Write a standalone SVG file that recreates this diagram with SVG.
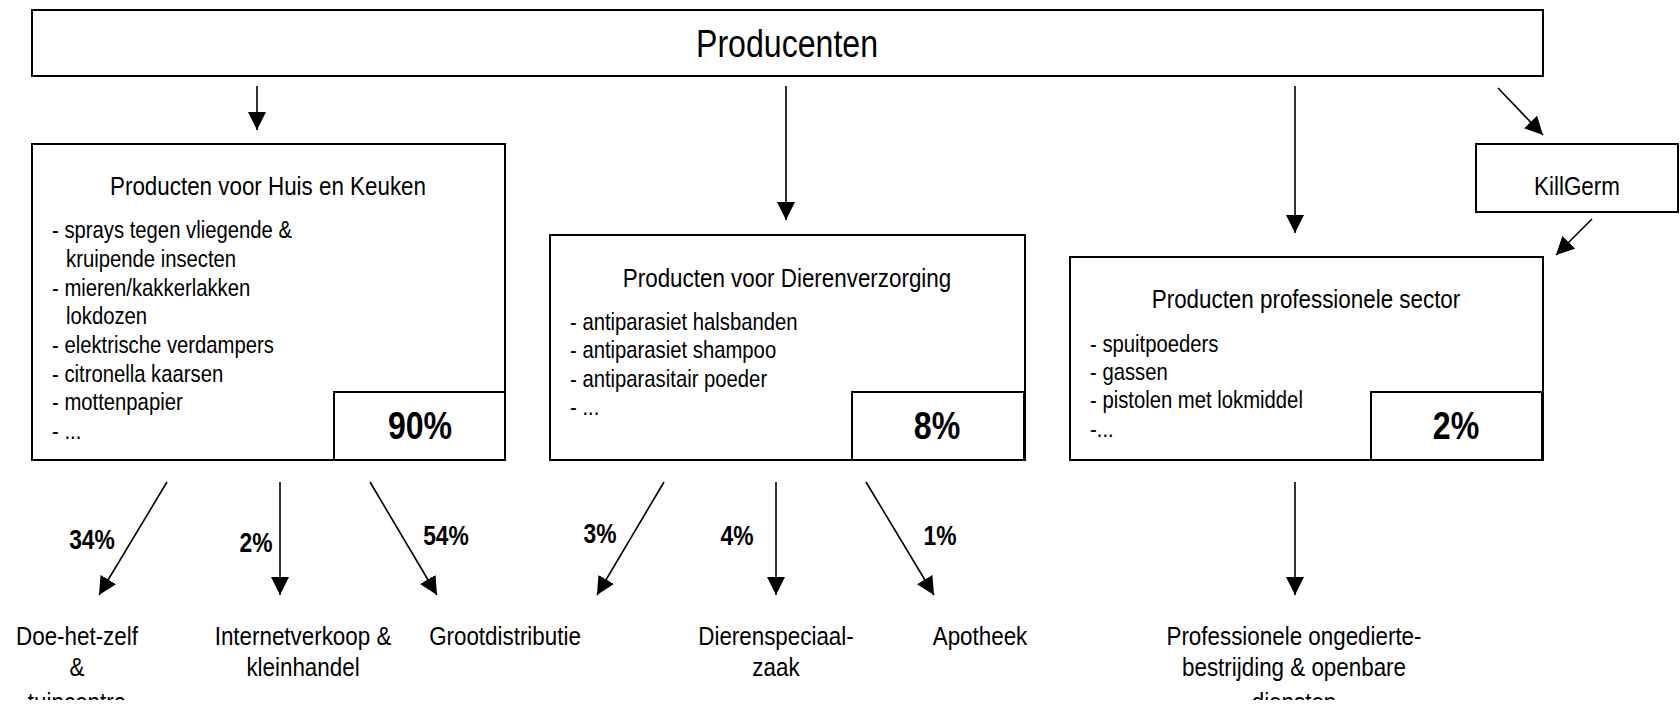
<svg xmlns="http://www.w3.org/2000/svg" width="1680" height="707" viewBox="0 0 1680 707">
<defs>
<marker id="ah" viewBox="0 0 18 18" refX="18" refY="9" markerWidth="18" markerHeight="18" orient="auto" markerUnits="userSpaceOnUse">
<path d="M0,0 L18,9 L0,18 z" fill="#000"/>
</marker>
<clipPath id="cut"><rect x="0" y="0" width="1680" height="700"/></clipPath>
<style>
.box{fill:#fff;stroke:#000;stroke-width:2}
.t{font-family:"Liberation Sans",Arial,sans-serif;fill:#000}
.big{font-size:38px}
.ti{font-size:26.5px}
.it{font-size:24px}
.pc{font-size:38px;font-weight:bold}
.lb{font-size:27px;font-weight:bold}
.c{text-anchor:middle}
.ar{stroke:#000;stroke-width:1.6;fill:none;marker-end:url(#ah)}
</style>
</defs>
<rect width="1680" height="707" fill="#fff"/>
<g id="producenten">
<rect class="box" x="32" y="10" width="1511" height="66"/>
<text class="t big c" transform="translate(787,57) scale(0.845,1)">Producenten</text>
</g>
<g id="huis-keuken">
<rect class="box" x="32" y="144" width="473" height="316"/>
<text class="t ti c" transform="translate(268,195) scale(0.845,1)">Producten voor Huis en Keuken</text>
<text class="t it" transform="translate(52,238) scale(0.845,1)">- sprays tegen vliegende &amp;</text>
<text class="t it" transform="translate(66,267) scale(0.845,1)">kruipende insecten</text>
<text class="t it" transform="translate(52,296) scale(0.845,1)">- mieren/kakkerlakken</text>
<text class="t it" transform="translate(66,324) scale(0.845,1)">lokdozen</text>
<text class="t it" transform="translate(52,353) scale(0.845,1)">- elektrische verdampers</text>
<text class="t it" transform="translate(52,382) scale(0.845,1)">- citronella kaarsen</text>
<text class="t it" transform="translate(52,410) scale(0.845,1)">- mottenpapier</text>
<text class="t it" transform="translate(52,439) scale(0.845,1)">- ...</text>
<rect class="box" x="334" y="392" width="171" height="68"/>
<text class="t pc c" transform="translate(420,439) scale(0.845,1)">90%</text>
</g>
<g id="dierenverzorging">
<rect class="box" x="550" y="235" width="475" height="225"/>
<text class="t ti c" transform="translate(787,287) scale(0.845,1)">Producten voor Dierenverzorging</text>
<text class="t it" transform="translate(570,330) scale(0.845,1)">- antiparasiet halsbanden</text>
<text class="t it" transform="translate(570,358) scale(0.845,1)">- antiparasiet shampoo</text>
<text class="t it" transform="translate(570,387) scale(0.845,1)">- antiparasitair poeder</text>
<text class="t it" transform="translate(570,415) scale(0.845,1)">- ...</text>
<rect class="box" x="852" y="392" width="172" height="68"/>
<text class="t pc c" transform="translate(937,439) scale(0.845,1)">8%</text>
</g>
<g id="professioneel">
<rect class="box" x="1070" y="257" width="473" height="203"/>
<text class="t ti c" transform="translate(1306,308) scale(0.845,1)">Producten professionele sector</text>
<text class="t it" transform="translate(1090,352) scale(0.845,1)">- spuitpoeders</text>
<text class="t it" transform="translate(1090,380) scale(0.845,1)">- gassen</text>
<text class="t it" transform="translate(1090,408) scale(0.845,1)">- pistolen met lokmiddel</text>
<text class="t it" transform="translate(1090,437) scale(0.845,1)">-...</text>
<rect class="box" x="1371" y="392" width="171" height="68"/>
<text class="t pc c" transform="translate(1456,439) scale(0.845,1)">2%</text>
</g>
<g id="killgerm">
<rect class="box" x="1476" y="144" width="202" height="68"/>
<text class="t ti c" transform="translate(1577,195) scale(0.845,1)">KillGerm</text>
</g>
<g clip-path="url(#cut)">
<g id="doe-het-zelf">
<text class="t ti c" transform="translate(77,645) scale(0.845,1)">Doe-het-zelf</text>
<text class="t ti c" transform="translate(77,676) scale(0.845,1)">&amp;</text>
<text class="t ti c" transform="translate(77,711) scale(0.845,1)">tuincentra</text>
</g>
<g id="internet">
<text class="t ti c" transform="translate(303,645) scale(0.845,1)">Internetverkoop &amp;</text>
<text class="t ti c" transform="translate(303,676) scale(0.845,1)">kleinhandel</text>
</g>
<g id="grootdistributie">
<text class="t ti c" transform="translate(505,645) scale(0.845,1)">Grootdistributie</text>
</g>
<g id="dierenspeciaalzaak">
<text class="t ti c" transform="translate(776,645) scale(0.845,1)">Dierenspeciaal-</text>
<text class="t ti c" transform="translate(776,676) scale(0.845,1)">zaak</text>
</g>
<g id="apotheek">
<text class="t ti c" transform="translate(980,645) scale(0.845,1)">Apotheek</text>
</g>
<g id="ongedierte">
<text class="t ti c" transform="translate(1294,645) scale(0.845,1)">Professionele ongedierte-</text>
<text class="t ti c" transform="translate(1294,676) scale(0.845,1)">bestrijding &amp; openbare</text>
<text class="t ti c" transform="translate(1294,711) scale(0.845,1)">diensten</text>
</g>
</g>
<g id="connectors">
<line class="ar" x1="257" y1="86" x2="257" y2="130"/>
<line class="ar" x1="786" y1="86" x2="786" y2="220"/>
<line class="ar" x1="1295" y1="86" x2="1295" y2="233"/>
<line class="ar" x1="1498" y1="88" x2="1543" y2="135"/>
<line class="ar" x1="1592" y1="219" x2="1556" y2="255"/>
<line class="ar" x1="167" y1="482" x2="99" y2="595"/>
<line class="ar" x1="280" y1="482" x2="280" y2="595"/>
<line class="ar" x1="370" y1="482" x2="437" y2="595"/>
<line class="ar" x1="664" y1="482" x2="597" y2="595"/>
<line class="ar" x1="776" y1="482" x2="776" y2="595"/>
<line class="ar" x1="866" y1="482" x2="934" y2="595"/>
<line class="ar" x1="1295" y1="482" x2="1295" y2="595"/>
<text class="t lb c" transform="translate(92,549) scale(0.845,1)">34%</text>
<text class="t lb c" transform="translate(256,552) scale(0.845,1)">2%</text>
<text class="t lb c" transform="translate(446,545) scale(0.845,1)">54%</text>
<text class="t lb c" transform="translate(600,543) scale(0.845,1)">3%</text>
<text class="t lb c" transform="translate(737,545) scale(0.845,1)">4%</text>
<text class="t lb c" transform="translate(940,545) scale(0.845,1)">1%</text>
</g>
</svg>
